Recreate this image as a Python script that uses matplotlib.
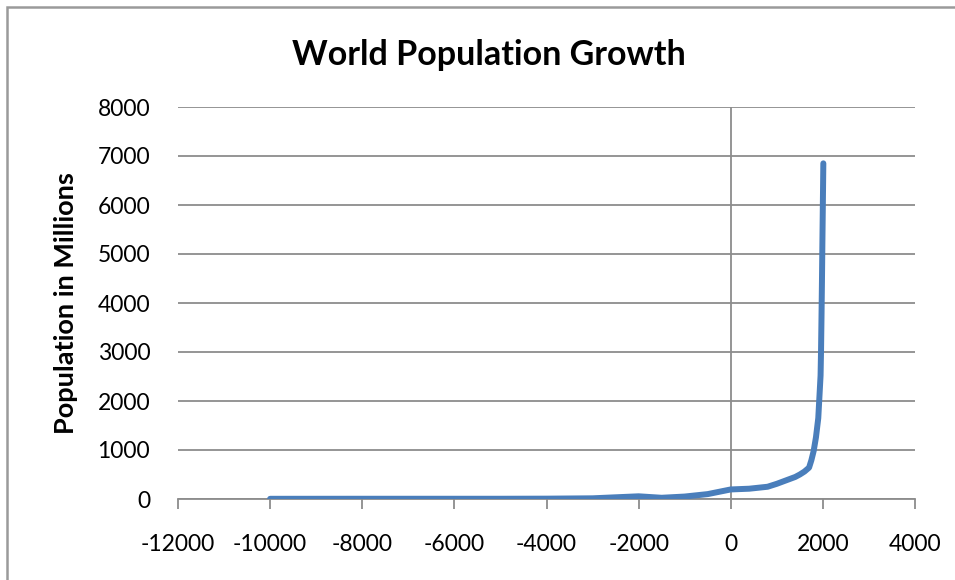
import matplotlib.pyplot as plt
from matplotlib.patches import Rectangle

# world population estimates (millions) by year
years = [-10000, -8000, -6500, -5000, -4000, -3000, -2000, -1500, -1000, -500,
         0, 400, 800, 1000, 1200, 1400, 1500, 1600, 1700,
         1750, 1800, 1850, 1900, 1950, 1960, 1970, 1980, 1990, 2000, 2010]
population = [4, 5, 5, 5, 7, 14, 55, 25, 50, 100,
              195, 210, 250, 310, 380, 450, 500, 560, 640,
              790, 980, 1260, 1650, 2520, 3020, 3700, 4440, 5270, 6060, 6850]

x_ticks = list(range(-12000, 4001, 2000))
y_ticks = list(range(0, 8001, 1000))

plt.rcParams['font.family'] = ['Lato', 'DejaVu Sans']
plt.rcParams['axes.unicode_minus'] = False

fig = plt.figure(figsize=(9.55, 5.8), dpi=100)
ax = fig.add_axes([178 / 955, 81 / 580, 737 / 955, 392 / 580])

grid_col = '#8c8c8c'
ax.set_xlim(-12000, 4000)
ax.set_ylim(0, 8000)
ax.set_xticks(x_ticks)
ax.set_yticks(y_ticks)
ax.grid(axis='y', color=grid_col, linewidth=1.3)
ax.axvline(0, color=grid_col, linewidth=1.3, zorder=1)

for side in ['top', 'right', 'left']:
    ax.spines[side].set_visible(False)
ax.spines['bottom'].set_color(grid_col)
ax.spines['bottom'].set_linewidth(1.3)
ax.tick_params(axis='x', colors=grid_col, length=7, width=1.3, direction='out',
               labelcolor='black', labelsize=16.5, pad=18)
ax.tick_params(axis='y', length=0, labelcolor='black', labelsize=16.5, pad=20)

ax.plot(years, population, color='#4a7ebb', linewidth=4.3,
        solid_capstyle='round', solid_joinstyle='round', zorder=3)

fig.text(0.512, 0.905, 'World Population Growth', ha='center', va='center',
         fontsize=24.5, fontweight='bold')
ax.set_ylabel('Population in Millions', fontsize=19.5, fontweight='bold', labelpad=14)

# chart frame
fig.patches.append(Rectangle((7 / 955, -0.05), 1.1, 1.05 - 7 / 580,
                             transform=fig.transFigure, fill=False,
                             edgecolor='#9a9a9a', linewidth=1.8))

fig.savefig('out.png', dpi=100)
